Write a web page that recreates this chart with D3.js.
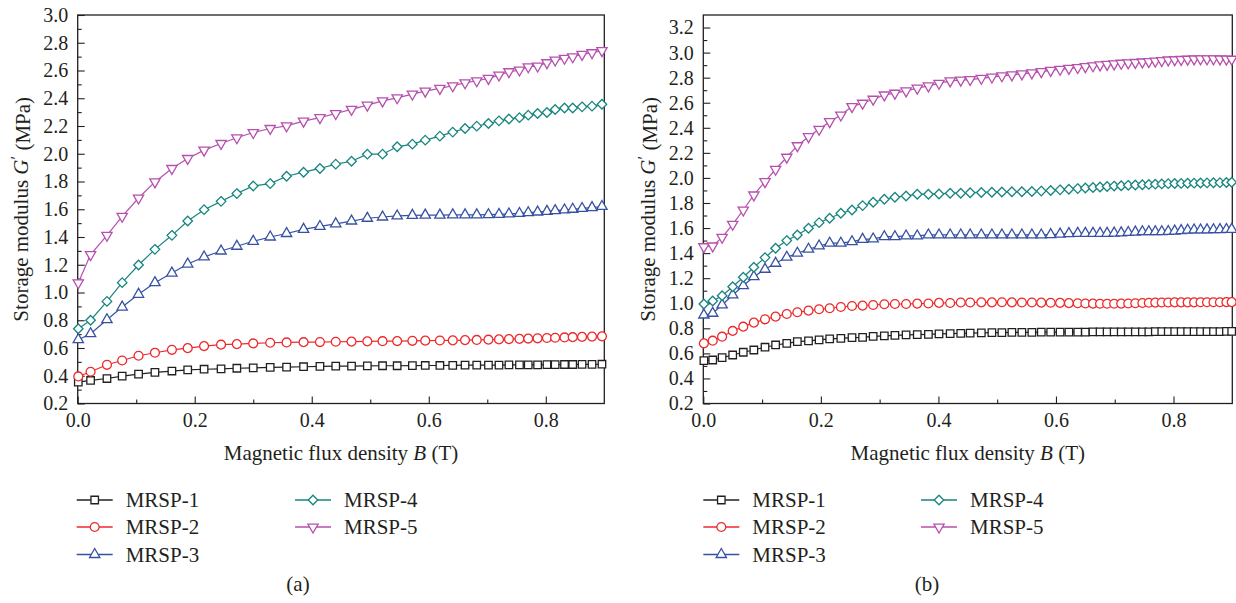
<!DOCTYPE html>
<html><head><meta charset="utf-8">
<script src="https://cdn.jsdelivr.net/npm/d3@7"></script>
<style>
body{margin:0;background:#fff}
svg text{font-family:"Liberation Serif","Times New Roman",serif;fill:#231f20}
</style>
</head><body><svg id="c" width="1236" height="603"></svg>
<script>
// ---------- data ----------
const seriesNames = ["MRSP-1", "MRSP-2", "MRSP-3", "MRSP-4", "MRSP-5"];

// panel (a): magnetic flux density B (T)
const bA = [0.001, 0.022, 0.050, 0.076, 0.104, 0.132, 0.161, 0.188, 0.216, 0.245,
            0.272, 0.300, 0.329, 0.357, 0.386, 0.414, 0.441, 0.468, 0.495, 0.521,
            0.546, 0.572, 0.594, 0.619, 0.641, 0.662, 0.682, 0.702, 0.720, 0.737,
            0.755, 0.770, 0.786, 0.802, 0.816, 0.832, 0.846, 0.862, 0.879, 0.896];
const a1 = [0.354, 0.366, 0.380, 0.397, 0.412, 0.424, 0.434, 0.442, 0.447, 0.450,
            0.454, 0.457, 0.460, 0.462, 0.465, 0.467, 0.469, 0.470, 0.471, 0.472,
            0.472, 0.473, 0.474, 0.474, 0.475, 0.476, 0.476, 0.477, 0.477, 0.478,
            0.478, 0.479, 0.479, 0.480, 0.480, 0.481, 0.481, 0.482, 0.482, 0.483];
const a2 = [0.395, 0.429, 0.479, 0.510, 0.544, 0.566, 0.587, 0.599, 0.614, 0.624,
            0.628, 0.633, 0.638, 0.640, 0.642, 0.643, 0.645, 0.646, 0.648, 0.649,
            0.650, 0.652, 0.653, 0.654, 0.655, 0.657, 0.658, 0.660, 0.662, 0.664,
            0.666, 0.668, 0.670, 0.672, 0.674, 0.676, 0.678, 0.680, 0.682, 0.684];
const a3 = [0.660, 0.703, 0.804, 0.895, 0.987, 1.071, 1.140, 1.205, 1.256, 1.299,
            1.333, 1.369, 1.400, 1.425, 1.455, 1.476, 1.495, 1.515, 1.535, 1.544,
            1.552, 1.556, 1.558, 1.558, 1.560, 1.560, 1.560, 1.561, 1.563, 1.566,
            1.570, 1.575, 1.580, 1.585, 1.590, 1.595, 1.600, 1.606, 1.612, 1.620];
const a4 = [0.739, 0.800, 0.936, 1.071, 1.198, 1.311, 1.412, 1.515, 1.597, 1.657,
            1.713, 1.768, 1.785, 1.838, 1.867, 1.894, 1.925, 1.946, 1.997, 1.997,
            2.050, 2.069, 2.098, 2.127, 2.156, 2.182, 2.199, 2.218, 2.237, 2.250,
            2.260, 2.278, 2.290, 2.297, 2.319, 2.330, 2.330, 2.338, 2.343, 2.357];
const a5 = [1.070, 1.273, 1.412, 1.549, 1.681, 1.797, 1.894, 1.966, 2.026, 2.074,
            2.115, 2.153, 2.182, 2.201, 2.235, 2.260, 2.290, 2.320, 2.350, 2.381,
            2.403, 2.430, 2.451, 2.471, 2.490, 2.511, 2.526, 2.543, 2.567, 2.591,
            2.603, 2.627, 2.632, 2.656, 2.675, 2.688, 2.699, 2.716, 2.728, 2.743];

// panel (b)
const bB = [0.001, 0.016, 0.032, 0.050, 0.068, 0.086, 0.105, 0.123, 0.142, 0.160,
            0.179, 0.197, 0.215, 0.234, 0.253, 0.271, 0.289, 0.308, 0.326, 0.345,
            0.364, 0.383, 0.401, 0.420, 0.438, 0.454, 0.473, 0.491, 0.508, 0.525,
            0.542, 0.559, 0.575, 0.591, 0.607, 0.622, 0.637, 0.650, 0.663, 0.675,
            0.687, 0.699, 0.711, 0.723, 0.735, 0.747, 0.758, 0.769, 0.780, 0.791,
            0.802, 0.813, 0.824, 0.835, 0.846, 0.857, 0.868, 0.879, 0.890, 0.899];
const b1 = [0.542, 0.547, 0.566, 0.587, 0.609, 0.627, 0.649, 0.667, 0.680, 0.693,
            0.699, 0.707, 0.715, 0.720, 0.725, 0.728, 0.735, 0.740, 0.744, 0.747,
            0.750, 0.752, 0.755, 0.757, 0.760, 0.762, 0.764, 0.765, 0.766, 0.767,
            0.768, 0.768, 0.769, 0.769, 0.770, 0.770, 0.770, 0.770, 0.771, 0.771,
            0.771, 0.771, 0.772, 0.772, 0.772, 0.772, 0.772, 0.773, 0.773, 0.773,
            0.773, 0.773, 0.773, 0.774, 0.774, 0.774, 0.774, 0.774, 0.775, 0.775];
const b2 = [0.680, 0.701, 0.733, 0.779, 0.813, 0.845, 0.872, 0.893, 0.914, 0.928,
            0.941, 0.952, 0.960, 0.970, 0.978, 0.981, 0.986, 0.992, 0.994, 0.994,
            0.997, 0.998, 1.003, 1.002, 1.006, 1.006, 1.007, 1.007, 1.008, 1.007,
            1.006, 1.006, 1.005, 1.004, 1.003, 1.001, 1.000, 0.998, 0.997, 0.996,
            0.996, 0.996, 0.997, 0.998, 1.000, 1.002, 1.004, 1.005, 1.006, 1.006,
            1.007, 1.007, 1.007, 1.007, 1.008, 1.008, 1.008, 1.008, 1.009, 1.009];
const b3 = [0.906, 0.920, 0.986, 1.066, 1.140, 1.212, 1.271, 1.319, 1.367, 1.399,
            1.431, 1.457, 1.479, 1.479, 1.491, 1.510, 1.513, 1.531, 1.531, 1.537,
            1.537, 1.545, 1.545, 1.545, 1.545, 1.545, 1.545, 1.545, 1.545, 1.545,
            1.545, 1.545, 1.545, 1.548, 1.552, 1.556, 1.558, 1.558, 1.558, 1.558,
            1.558, 1.560, 1.562, 1.565, 1.568, 1.571, 1.571, 1.571, 1.571, 1.573,
            1.576, 1.580, 1.583, 1.585, 1.585, 1.586, 1.587, 1.588, 1.589, 1.590];
const b4 = [0.994, 1.018, 1.060, 1.132, 1.207, 1.287, 1.364, 1.439, 1.500, 1.545,
            1.598, 1.643, 1.678, 1.718, 1.744, 1.779, 1.806, 1.830, 1.846, 1.856,
            1.870, 1.870, 1.872, 1.878, 1.878, 1.882, 1.884, 1.886, 1.888, 1.890,
            1.890, 1.892, 1.895, 1.900, 1.905, 1.910, 1.915, 1.920, 1.924, 1.928,
            1.932, 1.935, 1.938, 1.941, 1.944, 1.946, 1.948, 1.950, 1.952, 1.954,
            1.955, 1.956, 1.957, 1.958, 1.959, 1.960, 1.961, 1.962, 1.963, 1.965];
const b5 = [1.451, 1.457, 1.526, 1.630, 1.744, 1.864, 1.970, 2.069, 2.165, 2.257,
            2.329, 2.388, 2.449, 2.502, 2.569, 2.596, 2.628, 2.662, 2.676, 2.694,
            2.716, 2.734, 2.755, 2.774, 2.780, 2.785, 2.795, 2.805, 2.815, 2.822,
            2.830, 2.838, 2.848, 2.858, 2.867, 2.874, 2.881, 2.888, 2.895, 2.902,
            2.906, 2.910, 2.915, 2.918, 2.921, 2.925, 2.928, 2.932, 2.936, 2.941,
            2.943, 2.945, 2.947, 2.949, 2.950, 2.950, 2.950, 2.949, 2.948, 2.947];

const xMajor = [0, 0.2, 0.4, 0.6, 0.8];
const xMinor = [0.1, 0.3, 0.5, 0.7];
const yMajorA = [0.2, 0.4, 0.6, 0.8, 1.0, 1.2, 1.4, 1.6, 1.8, 2.0, 2.2, 2.4, 2.6, 2.8, 3.0];
const yMinorA = [0.3, 0.5, 0.7, 0.9, 1.1, 1.3, 1.5, 1.7, 1.9, 2.1, 2.3, 2.5, 2.7, 2.9];
const yMajorB = [0.2, 0.4, 0.6, 0.8, 1.0, 1.2, 1.4, 1.6, 1.8, 2.0, 2.2, 2.4, 2.6, 2.8, 3.0, 3.2];
const yMinorB = [0.3, 0.5, 0.7, 0.9, 1.1, 1.3, 1.5, 1.7, 1.9, 2.1, 2.3, 2.5, 2.7, 2.9, 3.1];

const xTitle = "Magnetic flux density ";
const yTitle = "Storage modulus ";
const panelLabels = ["(a)", "(b)"];

// ---------- styles ----------
const colors = ["#231f20", "#ec2a2c", "#3651a3", "#17857f", "#b64fae"];
const symTypes = [d3.symbolSquare, d3.symbolCircle, d3.symbolTriangle, d3.symbolDiamond2, d3.symbolTriangle];
const symSizes = [56, 62, 46, 58, 46];
const symRot = [0, 0, 0, 0, 180];
const FONT = 20;
const TFONT = 21;

const svg = d3.select("#c");
svg.append("rect").attr("width", 1236).attr("height", 603).attr("fill", "#fff");

function symPath(i) { return d3.symbol().type(symTypes[i]).size(symSizes[i])(); }

function drawPanel(cfg) {
  const x = d3.scaleLinear().domain([0, 0.9]).range([cfg.x0, cfg.x1]);
  const y = d3.scaleLinear().domain(cfg.yDom).range([cfg.yb, cfg.yt]);
  const g = svg.append("g");

  // axes
  g.append("g").attr("transform", `translate(0,${cfg.yb})`)
    .call(d3.axisBottom(x).tickValues(xMajor).tickSize(-7).tickSizeOuter(0).tickPadding(9).tickFormat(d3.format(".1f")));
  g.append("g").attr("transform", `translate(0,${cfg.yb})`)
    .call(d3.axisBottom(x).tickValues(xMinor).tickSize(-4).tickSizeOuter(0).tickFormat(""));
  g.append("g").attr("transform", `translate(${cfg.x0},0)`)
    .call(d3.axisLeft(y).tickValues(cfg.yMajor).tickSize(-7).tickSizeOuter(0).tickPadding(9.5).tickFormat(d3.format(".1f")));
  g.append("g").attr("transform", `translate(${cfg.x0},0)`)
    .call(d3.axisLeft(y).tickValues(cfg.yMinor).tickSize(-4).tickSizeOuter(0).tickFormat(""));
  g.selectAll(".domain").remove();
  g.selectAll(".tick line").attr("stroke", "#231f20").attr("stroke-width", 1.1);
  g.selectAll(".tick text").attr("font-size", FONT).attr("font-family", null).style("fill", "#231f20");

  // frame
  g.append("rect").attr("x", cfg.x0).attr("y", cfg.yt)
    .attr("width", cfg.x1 - cfg.x0).attr("height", cfg.yb - cfg.yt)
    .attr("fill", "none").attr("stroke", "#231f20").attr("stroke-width", 1.3);

  // series
  const line = d3.line().x(d => x(d[0])).y(d => y(d[1]));
  cfg.series.forEach((vals, i) => {
    const pts = cfg.b.map((b, k) => [b, vals[k]]);
    g.append("path").datum(pts).attr("d", line).attr("fill", "none")
      .attr("stroke", colors[i]).attr("stroke-width", 1.2);
    g.append("g").selectAll("path").data(pts).join("path")
      .attr("d", symPath(i))
      .attr("transform", d => `translate(${x(d[0])},${y(d[1])}) rotate(${symRot[i]})`)
      .attr("fill", "#fff").attr("stroke", colors[i]).attr("stroke-width", 1.3);
  });

  // axis titles
  const xt = g.append("text").attr("x", (cfg.x0 + cfg.x1) / 2).attr("y", 460)
    .attr("text-anchor", "middle").attr("font-size", TFONT);
  xt.append("tspan").text(xTitle);
  xt.append("tspan").attr("font-style", "italic").text("B");
  xt.append("tspan").text(" (T)");

  const yt = g.append("text").attr("transform", `translate(${cfg.ytx},${(cfg.yt + cfg.yb) / 2}) rotate(-90)`)
    .attr("text-anchor", "middle").attr("dy", "0.35em").attr("font-size", TFONT);
  yt.append("tspan").text(yTitle);
  yt.append("tspan").attr("font-style", "italic").text("G");
  yt.append("tspan").attr("dy", "-0.35em").attr("font-size", TFONT * 0.8).text("\u2032");
  yt.append("tspan").attr("dy", "0.35em").text(" (MPa)");

  // legend
  const rows = [500, 527, 554.5];
  seriesNames.forEach((nm, i) => {
    const col = i < 3 ? 0 : 1;
    const row = i < 3 ? i : i - 3;
    const lx = cfg.legX[col];
    const ly = rows[row];
    const lg = g.append("g");
    lg.append("line").attr("x1", lx).attr("x2", lx + 36).attr("y1", ly).attr("y2", ly)
      .attr("stroke", colors[i]).attr("stroke-width", 1.3);
    lg.append("path").attr("d", symPath(i))
      .attr("transform", `translate(${lx + 18},${ly}) rotate(${symRot[i]})`)
      .attr("fill", "#fff").attr("stroke", colors[i]).attr("stroke-width", 1.3);
    lg.append("text").attr("x", lx + 49).attr("y", ly).attr("dy", "0.35em")
      .attr("font-size", TFONT).text(nm);
  });

  g.append("text").attr("x", cfg.labX).attr("y", 584).attr("dy", "0.35em")
    .attr("text-anchor", "middle").attr("font-size", TFONT).text(cfg.label);
}

drawPanel({x0: 77.7, x1: 604.3, yt: 15, yb: 403.5, yDom: [0.2, 3.0],
  yMajor: yMajorA, yMinor: yMinorA, b: bA, series: [a1, a2, a3, a4, a5],
  ytx: 21, legX: [76.7, 295], labX: 298, label: panelLabels[0]});
drawPanel({x0: 703.3, x1: 1232.3, yt: 15, yb: 403.5, yDom: [0.2, 3.3],
  yMajor: yMajorB, yMinor: yMinorB, b: bB, series: [b1, b2, b3, b4, b5],
  ytx: 648, legX: [703.3, 921], labX: 927, label: panelLabels[1]});
</script>
</body></html>
